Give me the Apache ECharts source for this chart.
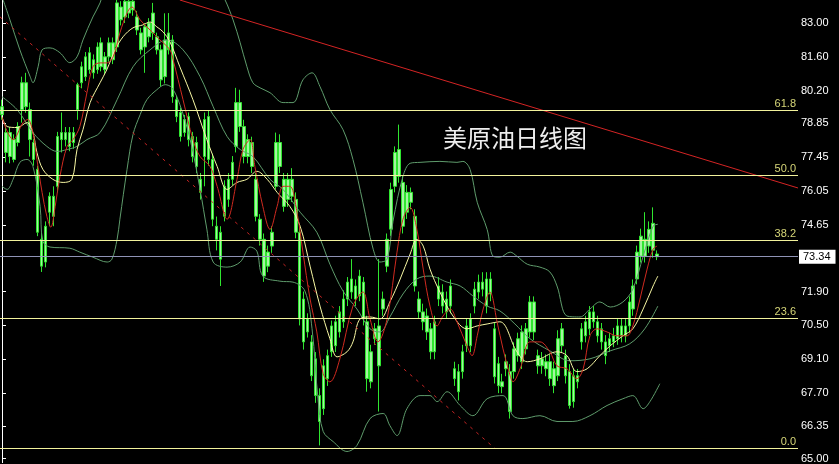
<!DOCTYPE html>
<html><head><meta charset="utf-8">
<script src="https://cdn.jsdelivr.net/npm/echarts@6/dist/echarts.min.js"></script>
<style>html,body{margin:0;padding:0;background:#000}#c{width:839px;height:464px}</style>
</head><body><div id="c"></div>
<script>
// ---- data (prices) ----
const openP  = [79.21,78.47,77.48,78.18,78.06,79.42,80.53,79.42,78.06,76.95,74.06,73.12,75.18,75.84,76.25,78.18,78.47,77.89,78.47,79.42,
80.53,80.78,81.77,80.94,81.07,82.18,81.07,81.60,82.18,82.01,83.66,83.25,83.90,83.54,83.25,82.59,82.01,82.43,83.41,82.43,
81.89,80.78,82.59,82.30,79.83,79.30,78.47,79.13,78.31,78.06,76.54,77.48,79.13,77.36,74.60,74.35,75.01,75.71,76.54,77.90,
79.71,78.72,77.48,78.06,76.54,74.89,74.06,72.95,73.78,76.25,78.06,76.54,75.71,76.54,75.71,74.35,71.59,70.23,69.82,69.12,
67.60,67.06,68.30,69.41,70.65,70.23,70.65,71.59,72.42,71.59,72.54,72.29,70.65,68.17,69.95,70.48,71.18,72.95,74.48,76.25,
76.66,76.41,75.18,76.00,75.01,71.59,71.06,70.23,70.36,69.41,71.59,71.88,71.59,71.30,68.71,68.59,68.59,69.66,70.77,71.30,
71.88,72.29,71.30,72.42,70.36,68.92,67.97,68.71,68.59,68.59,69.25,70.23,69.53,70.23,71.47,69.25,68.83,69.00,68.30,68.71,
68.42,69.66,69.25,68.59,67.35,68.17,69.82,70.65,70.36,71.06,70.65,70.36,69.82,69.66,69.82,69.95,70.48,70.07,70.48,71.18,
72.42,73.36,74.06,73.78,74.72,73.45];
const closeP = [79.54,77.65,78.47,77.36,78.72,80.53,79.54,78.18,77.36,74.35,72.95,74.60,75.84,75.01,78.31,78.47,78.18,78.47,78.06,80.45,
81.19,81.60,81.07,81.48,82.01,81.19,81.60,82.18,81.48,83.83,83.13,83.90,83.41,83.90,82.71,81.89,82.84,83.00,82.59,81.89,
80.65,82.30,81.89,79.95,79.13,78.31,79.01,78.18,77.48,77.07,76.00,79.01,77.36,74.89,74.06,73.24,76.25,76.54,77.24,79.71,
78.72,77.48,78.18,77.07,75.01,74.06,72.54,73.53,74.35,78.06,77.07,75.42,76.54,75.84,74.35,70.77,69.82,70.77,68.42,67.60,
66.53,68.83,69.25,70.48,69.66,71.06,71.59,72.29,71.88,72.13,71.72,70.77,68.30,69.41,70.36,68.83,71.59,74.06,76.12,77.65,
77.77,74.60,76.00,75.59,72.13,71.06,70.65,70.89,69.41,70.65,72.13,71.30,71.06,72.13,68.30,67.76,69.41,70.48,69.66,72.00,
72.29,72.00,72.42,71.80,68.38,68.01,68.17,69.00,66.94,69.53,69.95,69.00,70.36,71.47,70.23,68.83,69.12,68.71,69.00,68.01,
69.95,70.36,68.42,67.19,68.42,68.42,70.36,70.07,71.06,70.65,70.07,69.82,69.25,69.95,70.07,70.48,70.07,70.48,71.47,72.13,
73.53,74.19,73.36,74.47,73.61,73.34];
const lowP   = [79.00,77.24,77.20,77.24,77.90,78.88,79.29,77.48,77.10,74.19,72.71,72.90,74.60,74.60,76.00,77.65,77.90,77.70,77.80,79.00,
80.30,80.60,80.90,80.70,80.90,81.00,80.90,81.40,81.30,81.80,82.90,83.00,83.20,83.30,82.50,81.70,80.94,82.20,82.30,81.70,
80.37,80.50,81.70,79.70,78.90,78.10,78.30,77.90,77.24,76.80,75.70,76.25,77.10,74.60,73.60,72.13,74.80,75.40,76.30,77.65,
78.50,77.20,77.20,76.80,74.80,73.80,72.30,72.70,73.50,76.12,76.80,75.20,75.40,75.60,74.10,70.50,69.50,70.00,68.20,67.30,
65.54,66.80,68.00,69.20,69.40,70.00,70.40,71.30,71.60,71.30,71.50,70.50,67.76,67.90,69.70,66.94,70.90,72.70,74.20,76.00,
76.40,74.30,74.90,75.30,71.90,70.80,70.30,69.90,69.10,69.10,71.30,71.00,70.80,71.00,68.00,67.40,68.30,69.40,69.40,71.00,
71.60,71.70,71.00,71.50,68.10,67.70,67.70,68.40,66.65,68.30,69.00,68.70,69.30,70.00,69.90,68.50,68.50,68.40,68.00,67.70,
68.20,69.40,68.10,67.06,67.10,67.90,69.50,69.80,70.10,70.40,69.80,69.50,68.90,69.40,69.60,69.70,69.80,69.80,70.20,70.90,
72.20,73.10,73.10,73.50,73.30,73.20];
const highP  = [79.83,78.72,78.70,78.40,78.90,80.78,80.94,79.71,78.20,77.10,74.35,74.80,76.00,76.25,78.50,79.30,78.70,78.70,78.70,80.53,
81.40,81.80,82.00,81.70,82.20,82.40,81.80,82.40,82.40,83.95,83.90,84.00,84.00,84.00,83.50,82.80,83.00,83.20,83.83,82.60,
82.10,83.40,83.41,82.50,80.00,79.50,79.20,79.30,78.50,78.30,76.80,79.30,79.40,77.60,75.00,74.60,76.50,76.80,77.50,80.32,
80.24,79.00,78.40,78.30,76.80,75.10,74.30,73.80,74.60,78.47,78.40,76.80,76.80,77.00,76.00,74.60,71.90,71.00,70.10,69.40,
67.90,69.10,69.50,70.70,70.90,71.30,71.95,72.50,73.24,72.40,72.80,72.50,70.90,69.70,70.60,73.24,71.90,74.30,76.40,77.90,
78.80,76.70,76.30,76.20,75.30,71.90,71.40,71.20,70.60,70.90,72.50,72.20,71.90,72.40,69.00,68.90,69.70,70.80,71.00,72.30,
72.60,72.70,72.70,72.70,70.60,69.20,68.50,69.30,68.90,69.80,70.20,70.50,70.60,71.72,71.70,69.50,69.40,69.30,69.30,69.00,
70.30,70.60,69.50,68.90,68.70,68.70,70.60,70.90,71.30,71.30,70.90,70.60,70.10,70.20,70.40,70.80,70.80,70.80,71.70,72.40,
73.80,74.50,75.18,74.80,75.38,73.60];

// indicator lines: [candle index, price]
const maFast = [[0,79.1],[2.8,78.18],[5.3,78.88],[6.5,79.01],[7.8,78.47],[8.8,77.36],[10.1,76.0],[11.3,75.01],[12.3,74.56],[13.4,75.42],
[14.6,76.66],[16.4,77.9],[17.9,78.18],[19.6,78.72],[21.4,80.12],[22.9,81.19],[24.7,81.35],[26.4,81.35],[28,81.6],[29.7,82.59],
[31.5,83.41],[32.7,83.66],[34.8,83.13],[37.3,82.71],[39.8,82.3],[42.3,81.89],[43.1,81.48],[45.6,79.83],[48.1,78.18],[49.9,77.48],
[52.4,77.07],[54.2,76.25],[56.7,74.89],[59.2,76.54],[60.7,77.77],[62.5,78.18],[63.7,77.07],[65.7,75.42],[67.5,74.47],[69.3,75.42],
[70.8,76.25],[72.5,76.25],[74.3,75.18],[75.8,73.53],[77.6,71.59],[79.3,70.23],[80.9,68.5],[82.6,68.17],[85.1,69.12],[88.4,71.3],
[90.9,71.88],[92.7,70.77],[94.7,69.82],[97,70.77],[99.5,73.53],[101,74.89],[102.8,75.38],[104.5,74.47],[106.1,72.83],[107.8,71.3],
[109.6,70.48],[111.1,70.89],[112.9,71.18],[114.6,70.65],[117.1,69.66],[118.4,69.25],[119.7,70.07],[121.2,71.18],[122.9,71.88],[124.7,70.65],
[126.2,69.53],[128,68.42],[128.7,68.17],[130.5,68.71],[133,69.82],[135.5,69.82],[138,69.41],[139.8,68.83],[142.3,68.71],[144.8,68.3],
[146.4,68.71],[148.1,70.07],[149.9,70.36],[152.4,70.23],[154.9,70.07],[157.4,70.07],[158.9,70.48],[160.7,71.59],[162.5,72.83],[164,73.65],[165,73.78]];
const maSlow = [[0,79.13],[1.3,78.72],[3.8,78.68],[6.3,78.88],[7.8,78.47],[8.8,77.65],[10.3,76.95],[12.8,76.54],[15.4,76.41],[17.6,76.54],
[18.9,77.77],[20.4,78.59],[22.2,79.71],[24.7,80.53],[26.4,81.07],[28.5,81.89],[30.5,82.43],[33,82.8],[35.5,82.92],[37.3,83.04],
[39,82.84],[40.6,82.63],[42.3,82.22],[44.8,81.19],[48.1,79.83],[51.6,78.18],[54.2,77.07],[56.7,76.12],[59.2,76.41],[61.7,76.54],
[64.2,76.87],[66.8,76.54],[69.3,76.0],[72.5,75.42],[75.1,74.6],[77.6,72.95],[80.1,71.3],[82.6,69.95],[84.4,69.2],[86.9,69.41],
[88.4,69.82],[90.2,70.77],[92.7,70.85],[95.2,70.77],[97.7,71.47],[100.3,72.42],[102.8,73.45],[104.5,74.06],[106.1,73.78],[107.8,72.83],
[110.3,71.88],[113.6,70.89],[117.1,70.36],[119.7,70.48],[122.2,70.56],[125.4,70.65],[129.7,69.41],[132.3,69.0],[135.5,69.12],[139.8,69.41],
[142.3,69.25],[144.8,68.59],[147.4,68.71],[150.6,69.25],[153.2,69.66],[156.4,70.07],[158.9,70.36],[161.5,71.18],[164,72.13],[165.2,72.54]];
const bandMid = [[0,79.95],[3.8,79.42],[7.8,78.47],[11.3,77.9],[13.9,77.69],[16.4,77.77],[18.9,77.9],[21.4,78.18],[24.7,78.47],[29,79.83],
[33,81.19],[37.3,81.89],[41.6,82.3],[45.6,81.89],[49.9,80.78],[53.2,79.54],[56.7,78.31],[60,77.77],[63.2,77.48],[67.5,76.54],
[70.8,76.12],[75.1,75.18],[79.3,74.35],[82.6,73.03],[85.9,71.92],[89.4,71.18],[92.7,70.36],[95.2,70.23],[97.7,70.85],[101,71.8],
[104.5,72.42],[107.8,72.54],[112.1,72.29],[115.4,72.13],[118.6,71.72],[122.2,71.3],[125.4,71.1],[129.2,70.56],[133,69.95],[138,69.45],
[143.1,69.04],[148.1,69.12],[153.2,69.45],[158.1,69.74],[161.9,70.36],[165.2,71.3]];
const bandUp = [[0.3,83.95],[2,83.13],[4.5,81.89],[7.1,80.78],[7.8,80.53],[9.1,81.19],[10.1,81.89],[12.1,81.97],[14.6,81.77],[17.1,81.36],
[18.9,81.6],[20.4,82.3],[22.9,83.25],[24.7,83.83],[28.5,85.6],[39.8,86.4],[51.1,85.6],[56.2,83.95],[58.2,83.13],[60,82.18],
[61.7,81.19],[63.2,80.53],[65,80.32],[67.5,80.12],[70.8,79.71],[73.3,79.71],[75.8,80.65],[78.1,80.94],[80.1,80.37],[82.6,79.42],
[85.9,78.59],[88.4,77.36],[90.9,75.59],[93.5,73.65],[95.2,73.12],[97,73.24],[98.5,74.81],[101,76.66],[102.8,77.2],[105.3,77.24],
[110.3,77.28],[114.6,77.24],[116.1,77.28],[117.9,76.95],[119.7,75.59],[122.2,74.47],[123.7,73.36],[125.4,73.32],[128,73.53],[129.7,73.36],
[132.3,73.03],[135.5,72.91],[138,72.71],[139.8,72.13],[142.3,70.89],[145.6,70.85],[148.1,71.18],[150.6,71.47],[153.2,71.26],[156.4,71.47],
[158.9,72.0],[161.5,73.36],[164,74.6],[165.2,74.68]];
const bandLow = [[0,76.25],[1.3,76.12],[2.8,76.54],[4.5,77.24],[6.3,77.36],[7.8,77.07],[9.6,75.42],[10.3,73.98],[12.1,73.74],[17.1,73.69],
[19.6,73.53],[22.9,73.32],[26.5,73.12],[27.7,73.24],[29,74.06],[29.7,74.89],[31.5,76.95],[33,78.39],[34.8,79.21],[36.5,79.83],
[39,80.24],[41.1,80.45],[42.8,80.32],[44.8,79.63],[47.4,78.18],[49.9,76.12],[51.6,74.48],[53.2,73.12],[56.7,72.91],[60,73.12],
[62.5,73.74],[64.2,73.57],[65.7,72.54],[70,72.33],[73.3,72.29],[76.3,71.92],[78.1,70.36],[79.6,67.47],[80.9,66.12],[83.4,65.7],
[86.9,65.29],[89.4,65.54],[92.7,66.65],[96,66.86],[97.7,66.36],[99.5,65.95],[102,67.06],[105.3,67.6],[107.8,67.6],[109.6,67.35],
[112.1,67.76],[115.4,67.19],[118.6,66.77],[122.2,67.47],[126.2,67.6],[128.7,66.77],[131.2,66.65],[135.5,66.77],[139.8,66.53],[143.8,66.53],
[148.1,66.77],[152.4,67.19],[156.4,67.47],[158.9,67.6],[161.5,67.06],[163.2,67.35],[165.7,68.09]];
const trendSolid  = [[44.8,83.95],[200.5,76.18]];
const trendDashed = [[-0.5,83.25],[124.2,65.41]];
const fibLevels = [79.38, 76.70, 74.03, 70.78, 65.43];
const fibLabels = ['61.8', '50.0', '38.2', '23.6', '0.0'];
const lastPrice = 73.34;
const yTickValues = [65.00, 66.35, 67.70, 69.10, 70.50, 71.90, 74.65, 76.05, 77.45, 78.85, 80.20, 81.60, 83.00];
const titleText = '美原油日线图';
const slotCount = 201;

// ---- chart ----
const categories = Array.from({length: slotCount}, (_, i) => String(i));
const candles = openP.map((o, i) => [o, closeP[i], lowP[i], highP[i]]);
const chart = echarts.init(document.getElementById('c'), null, {renderer: 'canvas'});

const fibMarks = fibLevels.map((v, i) => ({
  yAxis: v,
  lineStyle: {color: '#f2f29c', width: 1, type: 'solid'},
  label: {show: true, position: 'insideEndTop', formatter: fibLabels[i], color: '#d6d678',
          fontSize: 11, fontFamily: 'Liberation Sans', distance: [2, 1]}
}));
fibMarks.push({
  yAxis: lastPrice,
  lineStyle: {color: '#8f93b5', width: 1, type: 'solid'},
  label: {show: true, position: 'end', formatter: lastPrice.toFixed(2), color: '#000',
          backgroundColor: '#fff', padding: [2, 5, 1, 4], fontSize: 11, fontFamily: 'Liberation Sans', distance: 1}
});

function lineSeries(name, data, color, width, type) {
  return {name, type: 'line', xAxisIndex: 1, yAxisIndex: 0, data, symbol: 'none', smooth: 0.35,
    silent: true, clip: true, lineStyle: {color, width, type: type || 'solid'}, z: 3};
}

chart.setOption({
  backgroundColor: '#000',
  animation: false,
  grid: {left: 0, right: 41, top: 0, bottom: 0, containLabel: false},
  xAxis: [
    {type: 'category', data: categories, show: false, boundaryGap: true},
    {type: 'value', min: -0.5, max: slotCount - 0.5, show: false}
  ],
  yAxis: {
    type: 'value', position: 'right', min: 64.83, max: 83.95,
    splitLine: {show: false},
    axisLine: {show: true, lineStyle: {color: '#ffffff', width: 1}},
    axisTick: {show: true, length: 4, customValues: yTickValues, lineStyle: {color: '#ffffff'}},
    axisLabel: {show: true, customValues: yTickValues, formatter: v => v.toFixed(2), color: '#ffffff',
                fontSize: 11, fontFamily: 'Liberation Sans', margin: 3}
  },
  graphic: [{type: 'text', left: 443, top: 126, silent: true,
    style: {text: titleText, fill: '#eeeeee', font: '24px "Noto Sans CJK SC"'}}],
  series: [
    {type: 'candlestick', data: candles, barWidth: 3, silent: true, z: 2,
     itemStyle: {color: '#a4f5a0', color0: '#a4f5a0', borderColor: '#2fe62f', borderColor0: '#2fe62f', borderWidth: 1},
     markLine: {silent: true, symbol: ['none', 'none'], animation: false, data: fibMarks}},
    lineSeries('bandUp', bandUp, '#5f9c6c', 1),
    lineSeries('bandMid', bandMid, '#5f9c6c', 1),
    lineSeries('bandLow', bandLow, '#5f9c6c', 1),
    lineSeries('maSlow', maSlow, '#f8f8a4', 1),
    lineSeries('maFast', maFast, '#d02a20', 1),
    {type: 'line', xAxisIndex: 1, data: trendSolid, symbol: 'none', silent: true, lineStyle: {color: '#d42424', width: 1}, z: 4},
    {type: 'line', xAxisIndex: 1, data: trendDashed, symbol: 'none', silent: true, lineStyle: {color: '#c82424', width: 1, type: [3, 5]}, z: 4}
  ]
});
</script>
</body></html>
